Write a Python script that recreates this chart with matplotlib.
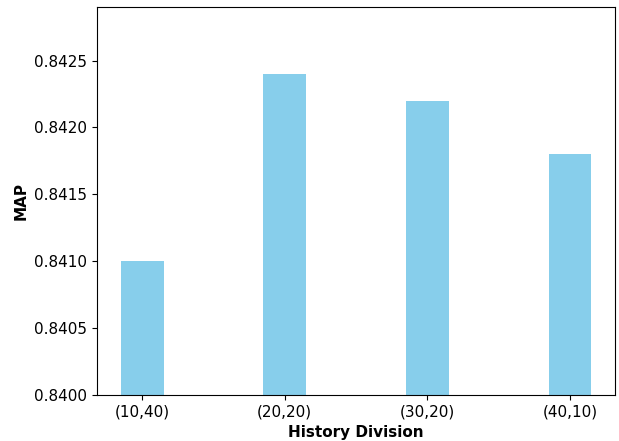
import matplotlib
matplotlib.use("Agg")
import matplotlib.pyplot as plt

divisions = ["(10,40)", "(20,20)", "(30,20)", "(40,10)"]
map_scores = [0.8410, 0.8424, 0.8422, 0.8418]

fig, ax = plt.subplots(figsize=(6.19, 4.41), dpi=100)
fig.subplots_adjust(left=0.157, right=0.9935, top=0.984, bottom=0.104)

ax.bar(divisions, map_scores, width=0.3, color="skyblue")
ax.set_ylim(0.8400, 0.8429)
ax.set_yticks([0.8400, 0.8405, 0.8410, 0.8415, 0.8420, 0.8425])
ax.set_yticklabels([f"{v:.4f}" for v in ax.get_yticks()])
ax.tick_params(labelsize=11)
ax.set_xlabel("History Division", fontsize=11, fontweight="bold")
ax.set_ylabel("MAP", fontsize=11, fontweight="bold")

fig.savefig("out.png", dpi=100)
